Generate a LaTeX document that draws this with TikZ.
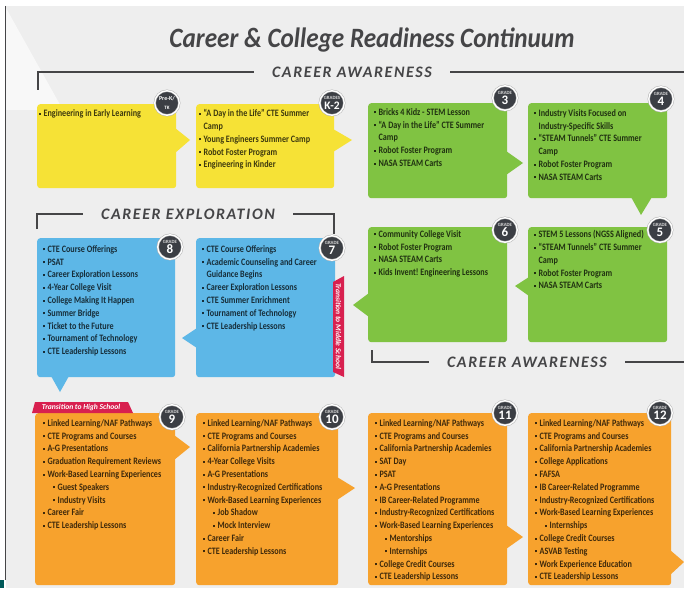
\documentclass[tikz,border=0pt]{standalone}
\usepackage{fontspec}
\setmainfont{Carlito}[FakeStretch=0.83]
\newfontfamily\headfont{Carlito}
\usetikzlibrary{positioning}

\definecolor{ylw}{HTML}{F6E236}
\definecolor{grn}{HTML}{80C342}
\definecolor{blu}{HTML}{5DB7E7}
\definecolor{org}{HTML}{F7A22D}
\definecolor{tabred}{HTML}{D8204F}
\definecolor{badgegray}{HTML}{3B3E44}
\definecolor{inkgray}{HTML}{454547}
\definecolor{bggray}{HTML}{EEEEEE}

\newcommand{\blt}{\raisebox{1.9pt}{\rule{2pt}{2pt}}\hspace{2.4pt}}
\newcommand{\itm}[1]{\blt#1}
\newcommand{\cnt}[1]{\hspace*{4.4pt}#1}
\newcommand{\subitm}[1]{\hspace*{10pt}\blt#1}

\tikzset{
  card/.style={rounded corners=3pt, fill=#1, anchor=north west, inner sep=0pt},
  lst/.style={anchor=north west, inner sep=0pt, align=left, text=#1!25!black,
    font=\bfseries\fontsize{9.8}{12.8}\selectfont, execute at begin node=\rule{0pt}{7pt}},
  badge/.style={circle, fill=badgegray, draw=gray!60, double=white, double distance=1.3pt,
    line width=0.5pt, minimum size=24.5pt, inner sep=0pt, align=center, text=white,
    font=\headfont\bfseries\fontsize{5}{9.6}\selectfont},
  head/.style={font=\headfont\bfseries\itshape\fontsize{16}{16}\selectfont\addfontfeatures{LetterSpace=10},
    text=inkgray, inner xsep=18pt, inner ysep=0pt},
  bracket/.style={draw=inkgray, line width=1.3pt},
  tabtxt/.style={text=white, inner sep=0pt, font=\headfont\bfseries\itshape\fontsize{7.6}{8}\selectfont},
}
\newcommand{\gradetag}[2]{{\fontsize{4.8}{5}\selectfont\color{white!85!black}#1}\\{\fontsize{13}{13}\selectfont #2}}

\begin{document}
\begin{tikzpicture}[x=1pt,y=-1pt]
\useasboundingbox (0,0) rectangle (684,588);
% backdrop
\fill[bggray] (6,6) rectangle (684,588);
\fill[white!60!bggray] (6,8) -- (63,110) -- (6,110) -- cycle;
\draw[inkgray, line width=1pt] (5,6) -- (5,580);
\fill[teal!70!black] (0,580) rectangle (4,588);

\node[font=\headfont\bfseries\itshape\fontsize{28}{28}\selectfont\addfontfeatures{FakeStretch=0.9}, text=inkgray] (ttl) at (372,40) {Career \& College Readiness Continuum};

% row 1: awareness
\node[card=ylw, minimum width=139pt, minimum height=84pt] (pk) at (37,104) {};
\fill[ylw] (175,128) -- (190,140) -- (175,153) -- cycle;
\node[card=ylw, minimum width=138pt, minimum height=84pt] (k2) at (196,104) {};
\fill[ylw] (333,129) -- (352,140) -- (333,152) -- cycle;
\node[card=grn, minimum width=139pt, minimum height=95pt] (g3) at (368,103) {};
\fill[grn] (506,151) -- (523,163) -- (506,175) -- cycle;
\node[card=grn, minimum width=139pt, minimum height=95pt] (g4) at (528,103) {};
\fill[grn] (631,197) -- (641,215) -- (652,197) -- cycle;

\node[lst=ylw] (lpk) at (39,109.3) {\itm{Engineering in Early Learning}};
\node[lst=ylw] (lk2) at (199,109.3) {\itm{“A Day in the Life” CTE Summer}\\ \cnt{Camp}\\
  \itm{Young Engineers Summer Camp}\\ \itm{Robot Foster Program}\\ \itm{Engineering in Kinder}};
\node[lst=grn] (l3) at (374,108.3) {\itm{Bricks 4 Kidz - STEM Lesson}\\ \itm{“A Day in the Life” CTE Summer}\\
  \cnt{Camp}\\ \itm{Robot Foster Program}\\ \itm{NASA STEAM Carts}};
\node[lst=grn] (l4) at (534,109.3) {\itm{Industry Visits Focused on}\\ \cnt{Industry-Specific Skills}\\
  \itm{“STEAM Tunnels” CTE Summer}\\ \cnt{Camp}\\ \itm{Robot Foster Program}\\ \itm{NASA STEAM Carts}};

% row 2: exploration
\node[card=blu, minimum width=138pt, minimum height=139pt] (g8) at (37,238) {};
\fill[blu] (51,376) -- (60,392) -- (69,376) -- cycle;
\node[card=blu, minimum width=139pt, minimum height=139pt] (g7) at (196,238) {};
\fill[blu] (197,328) -- (182,338) -- (197,348) -- cycle;
\node[card=grn, minimum width=139pt, minimum height=115pt] (g6) at (368,227) {};
\fill[grn] (369,293) -- (353,305) -- (369,317) -- cycle;
\node[card=grn, minimum width=139pt, minimum height=115pt] (g5) at (528,227) {};
\fill[grn] (529,277) -- (515,286) -- (529,296) -- cycle;

\node[lst=blu] (l8) at (43,245.3) {\itm{CTE Course Offerings}\\ \itm{PSAT}\\ \itm{Career Exploration Lessons}\\
  \itm{4-Year College Visit}\\ \itm{College Making It Happen}\\ \itm{Summer Bridge}\\
  \itm{Ticket to the Future}\\ \itm{Tournament of Technology}\\ \itm{CTE Leadership Lessons}};
\node[lst=blu] (l7) at (202,245.3) {\itm{CTE Course Offerings}\\ \itm{Academic Counseling and Career}\\
  \cnt{Guidance Begins}\\ \itm{Career Exploration Lessons}\\ \itm{CTE Summer Enrichment}\\
  \itm{Tournament of Technology}\\ \itm{CTE Leadership Lessons}};
\node[lst=grn] (l6) at (374,230.3) {\itm{Community College Visit}\\ \itm{Robot Foster Program}\\
  \itm{NASA STEAM Carts}\\ \itm{Kids Invent!\ Engineering Lessons}};
\node[lst=grn] (l5) at (534,230.3) {\itm{STEM 5 Lessons (NGSS Aligned)}\\ \itm{“STEAM Tunnels” CTE Summer}\\
  \cnt{Camp}\\ \itm{Robot Foster Program}\\ \itm{NASA STEAM Carts}};

% row 3: preparation
\node[card=org, minimum width=140pt, minimum height=172pt] (g9) at (35,413) {};
\fill[org] (174,435) -- (190,447) -- (174,460) -- cycle;
\node[card=org, minimum width=142pt, minimum height=172pt] (g10) at (196,413) {};
\fill[org] (337,477) -- (355,488) -- (337,500) -- cycle;
\node[card=org, minimum width=139pt, minimum height=172pt] (g11) at (368,413) {};
\fill[org] (506,525) -- (523,537) -- (506,549) -- cycle;
\node[card=org, minimum width=143pt, minimum height=172pt] (g12) at (528,413) {};
\fill[org] (670,550) -- (684,562) -- (670,575) -- cycle;

\node[lst=org] (l9) at (43,419.3) {\itm{Linked Learning/NAF Pathways}\\ \itm{CTE Programs and Courses}\\
  \itm{A-G Presentations}\\ \itm{Graduation Requirement Reviews}\\ \itm{Work-Based Learning Experiences}\\
  \subitm{Guest Speakers}\\ \subitm{Industry Visits}\\ \itm{Career Fair}\\ \itm{CTE Leadership Lessons}};
\node[lst=org] (l10) at (203,419.3) {\itm{Linked Learning/NAF Pathways}\\ \itm{CTE Programs and Courses}\\
  \itm{California Partnership Academies}\\ \itm{4-Year College Visits}\\ \itm{A-G Presentations}\\
  \itm{Industry-Recognized Certifications}\\ \itm{Work-Based Learning Experiences}\\
  \subitm{Job Shadow}\\ \subitm{Mock Interview}\\ \itm{Career Fair}\\ \itm{CTE Leadership Lessons}};
\node[lst=org] (l11) at (375,419.3) {\itm{Linked Learning/NAF Pathways}\\ \itm{CTE Programs and Courses}\\
  \itm{California Partnership Academies}\\ \itm{SAT Day}\\ \itm{PSAT}\\ \itm{A-G Presentations}\\
  \itm{IB Career-Related Programme}\\ \itm{Industry-Recognized Certifications}\\
  \itm{Work-Based Learning Experiences}\\ \subitm{Mentorships}\\ \subitm{Internships}\\
  \itm{College Credit Courses}\\ \itm{CTE Leadership Lessons}};
\node[lst=org] (l12) at (535,419.3) {\itm{Linked Learning/NAF Pathways}\\ \itm{CTE Programs and Courses}\\
  \itm{California Partnership Academies}\\ \itm{College Applications}\\ \itm{FAFSA}\\
  \itm{IB Career-Related Programme}\\ \itm{Industry-Recognized Certifications}\\
  \itm{Work-Based Learning Experiences}\\ \subitm{Internships}\\ \itm{College Credit Courses}\\
  \itm{ASVAB Testing}\\ \itm{Work Experience Education}\\ \itm{CTE Leadership Lessons}};

% transition tabs
\fill[tabred] (35,402) -- (128,402) -- (133,413) -- (32,413) -- cycle;
\node[tabtxt] (ths) at (81,407.5) {Transition to High School};
\fill[tabred] (333,282) -- (344,276) -- (344,377) -- (333,372) -- cycle;
\node[tabtxt, rotate=-90] (tms) at (338.5,326) {Transition to Middle School};

% grade badges
\node[badge] (bpk) at (167,103) {\fontsize{6}{6.5}\selectfont Pre-K/\\TK};
\node[badge] (bk2) at (332,103) {\gradetag{GRADES}{\fontsize{11.5}{11.5}\selectfont K-2}};
\foreach \n/\x/\y in {3/505/98, 4/661/99, 8/170/247, 7/332/248, 6/505/230, 5/660/230,
    9/172/417, 10/332/417, 11/505/413, 12/660/413}
  \node[badge] (b\n) at (\x,\y) {\gradetag{GRADE}{\n}};

% section headings
\node[head] (aw1) at (352,72) {CAREER AWARENESS};
\draw[bracket] (38,90) |- (aw1.west);
\draw[bracket] (aw1.east) -- (684,72);
\node[head] (ex) at (188,214) {CAREER EXPLORATION};
\draw[bracket] (37,229) |- (ex.west);
\draw[bracket] (ex.east) -| (334,234);
\node[head] (aw2) at (527,362) {CAREER AWARENESS};
\draw[bracket] (372,350) |- (aw2.west);
\draw[bracket] (aw2.east) -- (684,362);
\end{tikzpicture}
\end{document}
